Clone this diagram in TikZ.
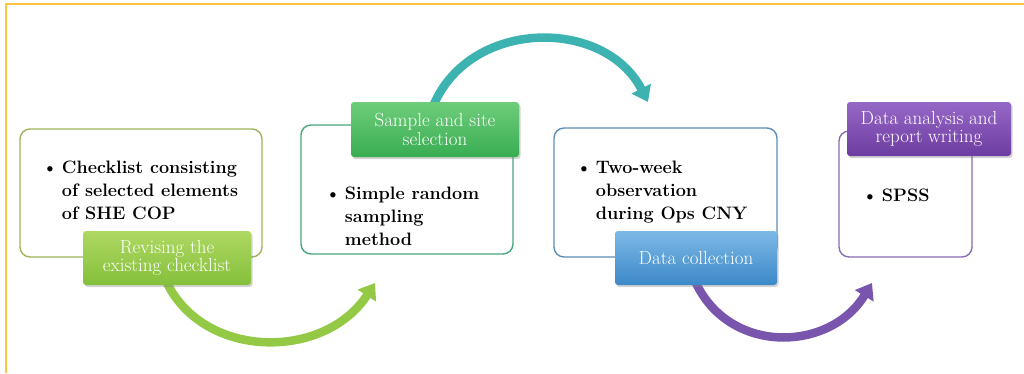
\documentclass[tikz,border=0pt]{standalone}
\usetikzlibrary{arrows.meta,shadows}
\definecolor{frameY}{HTML}{FDC443}
\definecolor{boxA}{HTML}{A0B45A}
\definecolor{boxB}{HTML}{46A77B}
\definecolor{boxC}{HTML}{5B8DB8}
\definecolor{boxD}{HTML}{8A6BB5}
\definecolor{labAt}{HTML}{AED862}
\definecolor{labAb}{HTML}{84C03B}
\definecolor{labBt}{HTML}{6FCD7A}
\definecolor{labBb}{HTML}{38AD52}
\definecolor{labCt}{HTML}{7DB9E6}
\definecolor{labCb}{HTML}{3C88C8}
\definecolor{labDt}{HTML}{9668C6}
\definecolor{labDb}{HTML}{6C3CA0}
\definecolor{arrA}{HTML}{93C945}
\definecolor{arrB}{HTML}{3DB3B1}
\definecolor{arrC}{HTML}{7A55AE}
\begin{document}
\begin{tikzpicture}[x=1pt,y=-1pt,
  box/.style={draw, line width=1.4pt, rounded corners=10pt, fill=white, inner sep=0pt},
  lab/.style={rounded corners=3pt, inner sep=0pt, align=center, text=white,
    font=\fontsize{19}{18.5}\selectfont,
    drop shadow={opacity=0.35, shadow xshift=1.5pt, shadow yshift=-2pt}},
  body/.style={anchor=base west, inner sep=0pt, font=\fontsize{18}{23}\selectfont\bfseries},
  flow/.style={line width=8.5pt, -{Triangle[width=21pt,length=15pt]}}]
\useasboundingbox (0,0) rectangle (1024,373);
\draw[frameY, line width=2.5pt] (6,373) -- (6,4) -- (1024,4);

% content boxes
\node[box, draw=boxA, minimum width=242pt, minimum height=128pt] (b1) at (141,193) {};
\node[box, draw=boxB, minimum width=212pt, minimum height=129pt] (b2) at (407,189.5) {};
\node[box, draw=boxC, minimum width=223pt, minimum height=129pt] (b3) at (665.5,192.5) {};
\node[box, draw=boxD, minimum width=133pt, minimum height=126pt] (b4) at (905.5,194) {};

% box texts
\node[body] (t1) at (42,173) {\begin{tabular}[t]{@{}l@{\hspace{4pt}}l@{}}\textbullet & Checklist consisting\\ & of selected elements\\ & of SHE COP\end{tabular}};
\node[body] (t2) at (325,199) {\begin{tabular}[t]{@{}l@{\hspace{4pt}}l@{}}\textbullet & Simple random\\ & sampling\\ & method\end{tabular}};
\node[body] (t3) at (576,173) {\begin{tabular}[t]{@{}l@{\hspace{4pt}}l@{}}\textbullet & Two-week\\ & observation\\ & during Ops CNY\end{tabular}};
\node[body] (t4) at (862,201) {\begin{tabular}[t]{@{}l@{\hspace{4pt}}l@{}}\textbullet & SPSS\end{tabular}};

% arrow end points
\coordinate (e1) at (375,283);
\coordinate (e2) at (648,102);
\coordinate (e3) at (872,283);

% arrow start points (at the step labels)
\coordinate (s1) at (167,283);
\coordinate (s2) at (434,104);
\coordinate (s3) at (696,283);

% curved arrows
\draw[flow, arrA] (s1) .. controls (205,360) and (325,360) .. (e1);
\draw[flow, arrB] (s2) .. controls (472,18) and (605,18) .. (e2);
\draw[flow, arrC] (s3) .. controls (730,355) and (830,352) .. (e3);

% step labels
\node[lab, top color=labAt, bottom color=labAb, minimum width=168pt, minimum height=54pt] (l1) at (167,258) {Revising the\\existing checklist};
\node[lab, top color=labBt, bottom color=labBb, minimum width=168pt, minimum height=55pt] (l2) at (435,129.5) {Sample and site\\selection};
\node[lab, top color=labCt, bottom color=labCb, minimum width=162pt, minimum height=54pt] (l3) at (696,258) {Data collection};
\node[lab, top color=labDt, bottom color=labDb, minimum width=164pt, minimum height=54pt] (l4) at (929,129) {Data analysis and\\report writing};
\end{tikzpicture}
\end{document}
